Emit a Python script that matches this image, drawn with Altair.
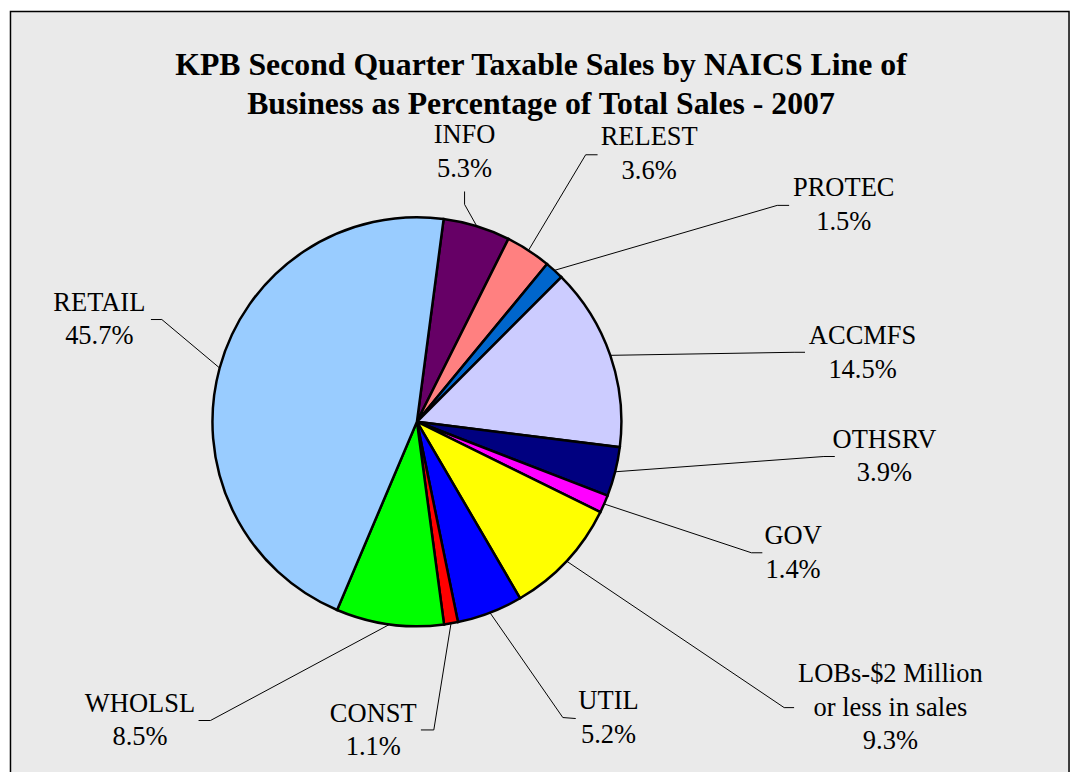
import math
import altair as alt
import pandas as pd

# ---- data ----
categories = ["INFO", "RELEST", "PROTEC", "ACCMFS", "OTHSRV", "GOV",
              "LOBs", "UTIL", "CONST", "WHOLSL", "RETAIL"]
values = [5.3, 3.6, 1.5, 14.5, 3.9, 1.4, 9.3, 5.2, 1.1, 8.5, 45.7]
name_lines = [["INFO"], ["RELEST"], ["PROTEC"], ["ACCMFS"], ["OTHSRV"], ["GOV"],
              ["LOBs-$2 Million", "or less in sales"], ["UTIL"], ["CONST"],
              ["WHOLSL"], ["RETAIL"]]
colors = ["#660066", "#FF8080", "#0066CC", "#CCCCFF", "#000080", "#FF00FF",
          "#FFFF00", "#0000FF", "#FF0000", "#00FF00", "#99CCFF"]
title_lines = ["KPB Second Quarter Taxable Sales by NAICS Line of",
               "Business as Percentage of Total Sales - 2007"]

# ---- layout (page pixel coords) ----
W, H = 1072, 764
OFF = 8
CX, CY, R = 420, 422, 206
START_DEG = 7.5
LINE_GAP = 34
# label centre x, first baseline y
label_pos = [(468, 141.5), (654, 143.5), (850, 195), (869, 343.5), (891, 448),
             (799, 545), (897, 684), (613, 711.5), (376, 724), (141, 714),
             (100, 310)]
# leader elbow and end points
leader_pts = [[(468, 203), (468, 190)],
              [(590, 153), (602, 153)],
              [(783, 204), (795, 204)],
              [(800, 352), (811, 352)],
              [(830, 457), (841, 457)],
              [(757, 554), (768, 554)],
              [(790, 710), (800, 710)],
              [(567, 720), (580, 721)],
              [(437, 732.5), (424, 732.5)],
              [(212, 723), (200, 723)],
              [(163, 319), (152, 319)]]
TITLE_X, TITLE_Y = 545, 73
TITLE_GAP = 39

# ---- tables ----
slices = pd.DataFrame({"cat": categories, "value": values,
                       "idx": list(range(len(categories)))})

total = sum(values)
lead_rows = []
cum = 0.0
for i, (c, v) in enumerate(zip(categories, values)):
    mid = START_DEG + (cum + v / 2) / total * 360.0
    cum += v
    a = math.radians(mid)
    pts = [(CX + R * math.sin(a), CY - R * math.cos(a))] + leader_pts[i]
    for k, (px, py) in enumerate(pts):
        lead_rows.append({"cat": c, "seq": k, "x": px - OFF, "y": py - OFF})
leaders = pd.DataFrame(lead_rows)

text_rows = []
for i, (c, v) in enumerate(zip(categories, values)):
    lx, ly = label_pos[i]
    lines = name_lines[i] + [f"{v}%"]
    for k, t in enumerate(lines):
        text_rows.append({"t": t, "x": lx - OFF, "y": ly + k * LINE_GAP - OFF})
labels = pd.DataFrame(text_rows)

titles = pd.DataFrame({"t": title_lines,
                       "x": [TITLE_X - OFF] * 2,
                       "y": [TITLE_Y - OFF, TITLE_Y + TITLE_GAP - OFF]})

frame = pd.DataFrame({"x0": [10 - OFF + 0.5], "x1": [1077 - OFF],
                      "y0": [0.75], "y1": [H + 20]})

xs = alt.Scale(domain=[0, W], range=[0, W], nice=False, zero=False)
ys = alt.Scale(domain=[0, H], range=[0, H], nice=False, zero=False)

frame_layer = alt.Chart(frame).mark_rect(
    fill="#EAEAEA", stroke="black", strokeWidth=1.5
).encode(
    x=alt.X("x0:Q", scale=xs, axis=None), x2="x1:Q",
    y=alt.Y("y0:Q", scale=ys, axis=None), y2="y1:Q"
)

lead_layer = alt.Chart(leaders).mark_line(
    color="black", strokeWidth=1
).encode(
    x=alt.X("x:Q", scale=xs, axis=None),
    y=alt.Y("y:Q", scale=ys, axis=None),
    detail="cat:N",
    order="seq:Q"
)

start = math.radians(START_DEG)
pie = alt.Chart(slices).mark_arc(
    outerRadius=R, stroke="black", strokeWidth=2.5
).encode(
    theta=alt.Theta("value:Q", stack=True,
                    scale=alt.Scale(range=[start, start + 2 * math.pi])),
    color=alt.Color("cat:N", scale=alt.Scale(domain=categories, range=colors),
                    legend=None),
    order=alt.Order("idx:Q"),
    x=alt.value(CX - OFF),
    y=alt.value(CY - OFF)
)

label_layer = alt.Chart(labels).mark_text(
    font="Liberation Serif", fontSize=26.67, color="black",
    align="center", baseline="alphabetic"
).encode(
    x=alt.X("x:Q", scale=xs, axis=None),
    y=alt.Y("y:Q", scale=ys, axis=None),
    text="t:N"
)

title_layer = alt.Chart(titles).mark_text(
    font="Liberation Serif", fontSize=32, fontWeight="bold", color="black",
    align="center", baseline="alphabetic"
).encode(
    x=alt.X("x:Q", scale=xs, axis=None),
    y=alt.Y("y:Q", scale=ys, axis=None),
    text="t:N"
)

chart = alt.layer(frame_layer, lead_layer, pie, label_layer, title_layer).properties(
    width=W, height=H, padding=0, background="white",
    autosize=alt.AutoSizeParams(type="none")
).configure_view(stroke=None)

chart.save("out.html", embed_options={"renderer": "svg", "actions": False})
